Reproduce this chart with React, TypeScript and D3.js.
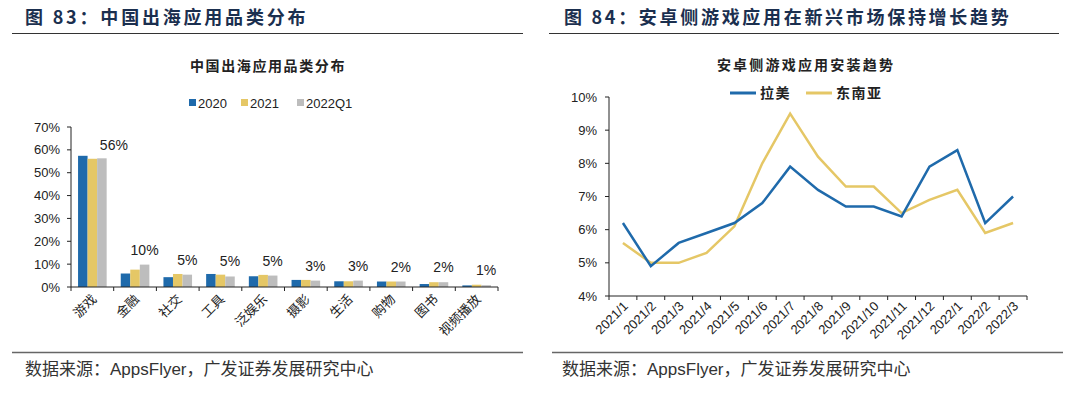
import React from "react";
import * as d3 from "d3";

const categories = ["游戏", "金融", "社交", "工具", "泛娱乐", "摄影", "生活", "购物", "图书", "视频播放"];
const barSeries = ["2020", "2021", "2022Q1"];
const values2020 = [0.574, 0.059, 0.043, 0.057, 0.047, 0.031, 0.025, 0.024, 0.013, 0.007];
const values2021 = [0.561, 0.076, 0.057, 0.054, 0.053, 0.031, 0.025, 0.024, 0.021, 0.010];
const values2022Q1 = [0.563, 0.098, 0.054, 0.046, 0.050, 0.028, 0.028, 0.024, 0.021, 0.008];
const barTicks = [0, 0.1, 0.2, 0.3, 0.4, 0.5, 0.6, 0.7];

const months = ["2021/1", "2021/2", "2021/3", "2021/4", "2021/5", "2021/6", "2021/7", "2021/8",
  "2021/9", "2021/10", "2021/11", "2021/12", "2022/1", "2022/2", "2022/3"];
const latam = [0.062, 0.049, 0.056, 0.059, 0.062, 0.068, 0.079, 0.072, 0.067, 0.067, 0.064, 0.079, 0.084, 0.062, 0.070];
const seAsia = [0.056, 0.050, 0.050, 0.053, 0.061, 0.080, 0.095, 0.082, 0.073, 0.073, 0.065, 0.069, 0.072, 0.059, 0.062];
const lineTicks = [0.04, 0.05, 0.06, 0.07, 0.08, 0.09, 0.10];

const BLUE = "#1f6aab";
const YELLOW = "#e5c766";
const GRAY = "#bdbdbd";
const NAVY = "#1b2f4f";
const CJK = "'Noto Sans CJK SC', sans-serif";
const LATIN = "Arial, 'Liberation Sans', sans-serif";
const pct = d3.format(".0%");

function BarChart() {
  const data = [values2020, values2021, values2022Q1];
  const colors = [BLUE, YELLOW, GRAY];
  const y = d3.scaleLinear().domain([0, 0.7]).range([287, 127]);
  const x0 = d3.scaleBand().domain(categories).range([71, 498]).paddingInner(0.33).paddingOuter(0.165);
  const x1 = d3.scaleBand().domain(barSeries).range([0, x0.bandwidth()]);
  const step = x0.step();
  const bounds = d3.range(categories.length + 1).map(i => 71 + i * step);

  return (
    <g>
      <text x={25} y={24} fontFamily={CJK} fontWeight="bold" fontSize={18} letterSpacing={2.8} fill={NAVY}>图 83：中国出海应用品类分布</text>
      <line x1={12} x2={523} y1={33.5} y2={33.5} stroke="#333" strokeWidth={1.2} />
      <text x={268} y={71} textAnchor="middle" fontFamily={CJK} fontWeight="bold" fontSize={14} letterSpacing={1.6} fill="#222">中国出海应用品类分布</text>
      {barSeries.map((s, i) => {
        const lx = [189, 241, 297][i];
        return (
          <g key={s}>
            <rect x={lx} y={99} width={7} height={7} fill={colors[i]} />
            <text x={lx + 9} y={107.5} fontFamily={LATIN} fontSize={13} fill="#222">{s}</text>
          </g>
        );
      })}
      {barTicks.map(t => (
        <g key={t}>
          <line x1={67} x2={71} y1={y(t)} y2={y(t)} stroke="#222" />
          <text x={60} y={y(t) + 4.5} textAnchor="end" fontFamily={LATIN} fontSize={13} fill="#222">{pct(t)}</text>
        </g>
      ))}
      <line x1={71} x2={71} y1={y(0.7)} y2={y(0)} stroke="#222" />
      {categories.map((c, ci) => (
        <g key={c}>
          {data.map((vals, si) => (
            <rect key={si} x={x0(c)! + x1(barSeries[si])!} y={y(vals[ci])} width={x1.bandwidth()}
              height={y(0) - y(vals[ci])} fill={colors[si]} />
          ))}
          <text x={x0(c)! + x1("2022Q1")! + x1.bandwidth() / 2 + (ci === 0 ? 12 : 0)} y={y(values2022Q1[ci]) - (ci === 0 ? 8 : 10)}
            textAnchor="middle" fontFamily={LATIN} fontSize={14} fill="#222">{pct(values2022Q1[ci])}</text>
          <text transform={`translate(${x0(c)! + x0.bandwidth() / 2 + 5},${300}) rotate(-45)`} textAnchor="end"
            fontFamily={CJK} fontSize={13} fill="#222">{c}</text>
        </g>
      ))}
      <line x1={71} x2={498} y1={y(0)} y2={y(0)} stroke="#222" />
      {bounds.map((b, i) => (
        <line key={i} x1={b} x2={b} y1={y(0)} y2={y(0) + 4} stroke="#222" />
      ))}
    </g>
  );
}

function LineChart() {
  const y = d3.scaleLinear().domain([0.04, 0.10]).range([296, 97]);
  const x = d3.scaleBand().domain(months).range([609, 1027]);
  const cx = (m: string) => x(m)! + x.bandwidth() / 2;
  const line = d3.line<number>().x((_, i) => cx(months[i])).y(d => y(d));
  const bounds = d3.range(months.length + 1).map(i => 609 + i * x.step());

  return (
    <g>
      <text x={564} y={24} fontFamily={CJK} fontWeight="bold" fontSize={18} letterSpacing={2.7} fill={NAVY}>图 84：安卓侧游戏应用在新兴市场保持增长趋势</text>
      <line x1={549} x2={1059} y1={33.5} y2={33.5} stroke="#333" strokeWidth={1.2} />
      <text x={806} y={70} textAnchor="middle" fontFamily={CJK} fontWeight="bold" fontSize={14} letterSpacing={2.2} fill="#222">安卓侧游戏应用安装趋势</text>
      <line x1={730} x2={756} y1={93} y2={93} stroke={BLUE} strokeWidth={3} />
      <text x={760} y={98} fontFamily={CJK} fontWeight="bold" fontSize={14} letterSpacing={1.5} fill="#222">拉美</text>
      <line x1={806} x2={832} y1={93} y2={93} stroke={YELLOW} strokeWidth={3} />
      <text x={836} y={98} fontFamily={CJK} fontWeight="bold" fontSize={14} letterSpacing={1.5} fill="#222">东南亚</text>
      {lineTicks.map(t => (
        <g key={t}>
          <line x1={605} x2={609} y1={y(t)} y2={y(t)} stroke="#222" />
          <text x={597} y={y(t) + 4.5} textAnchor="end" fontFamily={LATIN} fontSize={13} fill="#222">{pct(t)}</text>
        </g>
      ))}
      <line x1={609} x2={609} y1={y(0.10)} y2={y(0.04)} stroke="#222" />
      <line x1={609} x2={1027} y1={y(0.04)} y2={y(0.04)} stroke="#222" />
      {bounds.map((b, i) => (
        <line key={i} x1={b} x2={b} y1={y(0.04)} y2={y(0.04) + 4} stroke="#222" />
      ))}
      {months.map(m => (
        <text key={m} transform={`translate(${cx(m) + 6},${307}) rotate(-45)`} textAnchor="end"
          fontFamily={LATIN} fontSize={13} fill="#222">{m}</text>
      ))}
      <path d={line(seAsia)!} fill="none" stroke={YELLOW} strokeWidth={2.5} />
      <path d={line(latam)!} fill="none" stroke={BLUE} strokeWidth={2.5} />
    </g>
  );
}

function Footer({ x1, x2, tx }: { x1: number; x2: number; tx: number }) {
  return (
    <g>
      <line x1={x1} x2={x2} y1={352.5} y2={352.5} stroke="#666" strokeWidth={1.5} />
      <text x={tx} y={375} fontSize={17} fill="#333">
        <tspan fontFamily={CJK}>数据来源：</tspan>
        <tspan fontFamily={LATIN}>AppsFlyer</tspan>
        <tspan fontFamily={CJK}>，广发证券发展研究中心</tspan>
      </text>
    </g>
  );
}

export default function App() {
  return (
    <div>
      <style>{`body{margin:0;background:#fff}`}</style>
      <svg width={1080} height={398} style={{ display: "block" }}>
        <rect width={1080} height={398} fill="#fff" />
        <BarChart />
        <LineChart />
        <Footer x1={12} x2={523} tx={25} />
        <Footer x1={552} x2={1063} tx={562} />
      </svg>
    </div>
  );
}
